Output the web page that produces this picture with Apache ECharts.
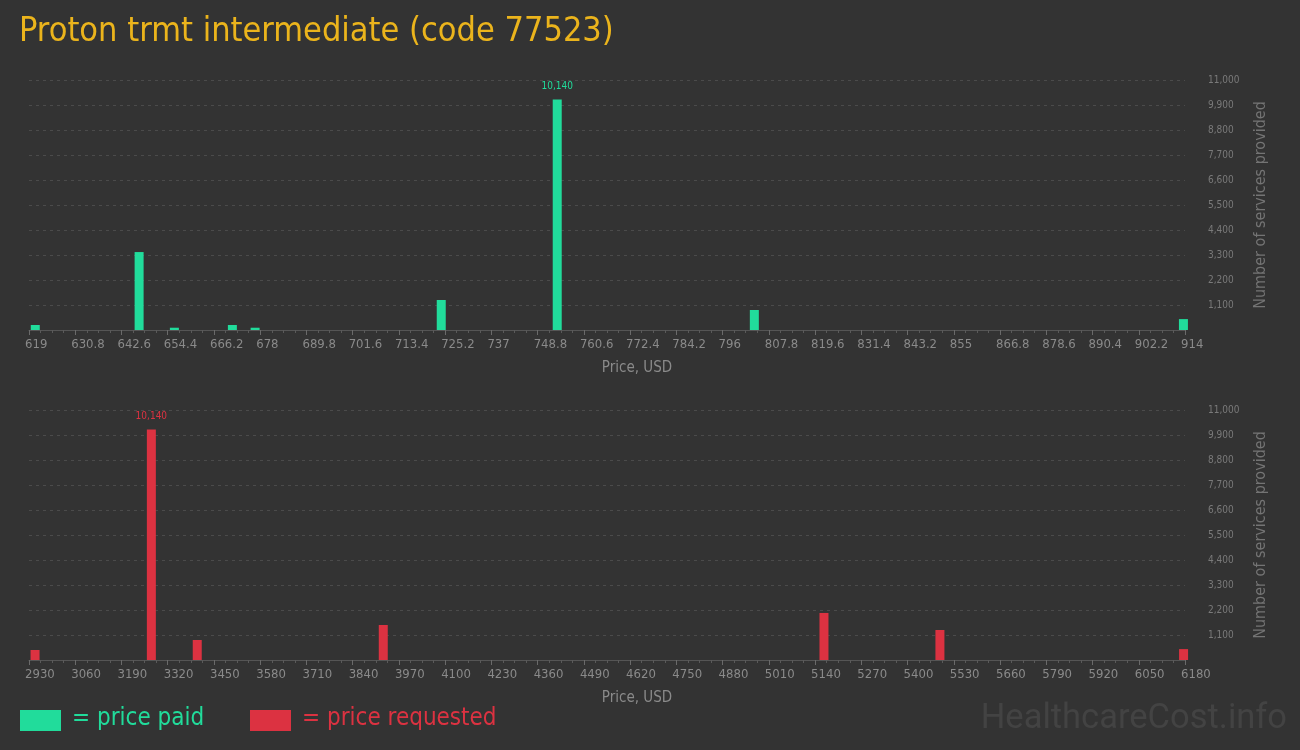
<!DOCTYPE html>
<html>
<head>
<meta charset="utf-8">
<script src="https://cdn.jsdelivr.net/npm/echarts@6/dist/echarts.min.js"></script>
<style>
html,body{margin:0;padding:0;background:#333333;}
#chart{width:1300px;height:750px;}
</style>
</head>
<body>
<div id="chart"></div>
<script>
// ---- data ----
const titleText = 'Proton trmt intermediate (code 77523)';
const paidPrices = [620.6, 647.1, 656.1, 670.9, 676.7, 724.2, 753.8, 804.1, 913.6];
const paidCounts = [220, 3430, 100, 220, 100, 1320, 10140, 880, 480];
const reqPrices = [2947, 3274, 3403, 3926, 5165, 5491, 6176];
const reqCounts = [440, 10140, 880, 1540, 2070, 1320, 480];
const paidTicks = [619, 630.8, 642.6, 654.4, 666.2, 678, 689.8, 701.6, 713.4, 725.2, 737, 748.8, 760.6, 772.4, 784.2, 796, 807.8, 819.6, 831.4, 843.2, 855, 866.8, 878.6, 890.4, 902.2, 914];
const reqTicks = [2930, 3060, 3190, 3320, 3450, 3580, 3710, 3840, 3970, 4100, 4230, 4360, 4490, 4620, 4750, 4880, 5010, 5140, 5270, 5400, 5530, 5660, 5790, 5920, 6050, 6180];
const yMax = 11000;
const yStep = 1100;

const GREEN = '#21dc9b';
const RED = '#dc3241';
const NARROW = '"Liberation Sans Narrow", "DejaVu Sans Condensed", "Roboto", sans-serif';

function minorTicks(ticks) {
  const out = [];
  for (let i = 0; i < ticks.length - 1; i++) {
    const a = ticks[i], b = ticks[i + 1];
    for (let k = 1; k < 4; k++) out.push(a + (b - a) * k / 4);
  }
  return out;
}
function fmtNum(v) { return Number(v).toLocaleString('en-US'); }

const chart = echarts.init(document.getElementById('chart'));

function xAxisMain(gridIndex, ticks) {
  return {
    type: 'value', gridIndex: gridIndex, position: 'bottom',
    min: ticks[0], max: ticks[ticks.length - 1],
    name: 'Price, USD', nameLocation: 'middle', nameGap: 31,
    nameTextStyle: { color: '#8a8a8a', fontSize: 15, fontFamily: NARROW, padding: [0, 0, 0, 60] },
    axisLine: { show: true, lineStyle: { color: '#555555', width: 1 } },
    axisTick: { show: true, customValues: ticks, length: 5, lineStyle: { color: '#6a6a6a' } },
    axisLabel: {
      show: true, customValues: ticks, color: '#8a8a8a', fontSize: 13, fontFamily: NARROW,
      align: 'left', margin: 8, padding: [0, 0, 0, -4],
      formatter: function (v) { return String(Math.round(v * 10) / 10); }
    },
    splitLine: { show: false }
  };
}
function xAxisMinor(gridIndex, ticks) {
  return {
    type: 'value', gridIndex: gridIndex, position: 'bottom', offset: 0,
    min: ticks[0], max: ticks[ticks.length - 1],
    axisLine: { show: false },
    axisTick: { show: true, customValues: minorTicks(ticks), length: 3, lineStyle: { color: '#5a5a5a' } },
    axisLabel: { show: false },
    splitLine: { show: false }
  };
}
function yAxis(gridIndex) {
  return {
    type: 'value', gridIndex: gridIndex, position: 'right',
    min: 0, max: yMax, interval: yStep,
    name: 'Number of services provided', nameLocation: 'middle', nameGap: 68,
    nameTextStyle: { color: '#747474', fontSize: 16, fontFamily: NARROW },
    axisLine: { show: false }, axisTick: { show: false },
    axisLabel: { color: '#7a7a7a', fontSize: 10, fontFamily: NARROW, margin: 23, showMinLabel: false,
      formatter: fmtNum },
    splitLine: { show: true, lineStyle: { color: '#4b4b4b', type: [3, 4], width: 1 } }
  };
}
function barSeries(xi, yi, prices, counts, color) {
  const mx = Math.max.apply(null, counts);
  return {
    type: 'bar', xAxisIndex: xi, yAxisIndex: yi, barWidth: 9,
    itemStyle: { color: color },
    data: prices.map(function (p, i) {
      return { value: [p, counts[i]], label: { show: counts[i] === mx } };
    }),
    label: { position: 'top', distance: 8, color: color, fontSize: 10, fontFamily: NARROW,
      formatter: function (d) { return fmtNum(d.value[1]); } },
    animation: false
  };
}

chart.setOption({
  backgroundColor: '#333333',
  animation: false,
  title: { text: titleText, left: 14, top: 10,
    textStyle: { color: '#ebb41c', fontSize: 34, fontWeight: 'normal', fontFamily: NARROW } },
  grid: [
    { left: 29, width: 1156, top: 80, height: 250 },
    { left: 29, width: 1156, top: 410, height: 250 }
  ],
  xAxis: [xAxisMain(0, paidTicks), xAxisMinor(0, paidTicks), xAxisMain(1, reqTicks), xAxisMinor(1, reqTicks)],
  yAxis: [yAxis(0), yAxis(1)],
  series: [
    barSeries(0, 0, paidPrices, paidCounts, GREEN),
    barSeries(2, 1, reqPrices, reqCounts, RED)
  ],
  graphic: [
    { type: 'rect', left: 20, top: 710, shape: { width: 41, height: 21 }, style: { fill: GREEN } },
    { type: 'text', left: 72, top: 707, style: { text: '= price paid', fill: GREEN, fontSize: 24, fontFamily: NARROW } },
    { type: 'rect', left: 250, top: 710, shape: { width: 41, height: 21 }, style: { fill: RED } },
    { type: 'text', left: 302, top: 707, style: { text: '= price requested', fill: RED, fontSize: 24, fontFamily: NARROW } },
    { type: 'text', right: 13, top: 702, style: { text: 'HealthcareCost.info', fill: '#434343', fontSize: 34.5, fontFamily: 'Roboto, sans-serif' } }
  ]
});
</script>
</body>
</html>
